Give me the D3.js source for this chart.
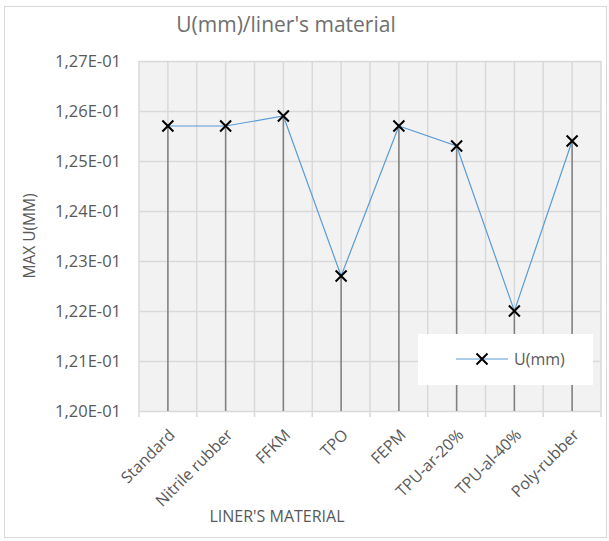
<!DOCTYPE html>
<html>
<head>
<meta charset="utf-8">
<script src="https://cdn.jsdelivr.net/npm/d3@7"></script>
<style>
  body { margin: 0; background: #fff; }
  svg text { font-family: "Open Sans", "Liberation Sans", sans-serif; fill: #595959; }
</style>
</head>
<body>
<div id="chart"></div>
<script>
// data
const materials = ['Standard', 'Nitrile rubber', 'FFKM', 'TPO', 'FEPM', 'TPU-ar-20%', 'TPU-al-40%', 'Poly-rubber'];
const uValues = [0.1257, 0.1257, 0.1259, 0.1227, 0.1257, 0.1253, 0.1220, 0.1254];
const yTicks = [0.120, 0.121, 0.122, 0.123, 0.124, 0.125, 0.126, 0.127];
const seriesName = 'U(mm)';

const W = 609, H = 541;
const plot = { left: 139, right: 601, top: 61, bottom: 411 };

const svg = d3.select('#chart').append('svg')
    .attr('width', W).attr('height', H);

// chart border
svg.append('rect')
    .attr('x', 4.5).attr('y', 6.5)
    .attr('width', 602).attr('height', 531)
    .attr('fill', '#fff').attr('stroke', '#d9d9d9');

// title
svg.append('text')
    .attr('x', 286).attr('y', 32)
    .attr('text-anchor', 'middle')
    .style('font-size', '21px')
    .style('fill', '#6f6f6f')
    .text("U(mm)/liner's material");

const x = d3.scaleBand().domain(materials).range([plot.left, plot.right]);
const y = d3.scaleLinear().domain([0.120, 0.127]).range([plot.bottom, plot.top]);

// plot background
svg.append('rect')
    .attr('x', plot.left).attr('y', plot.top)
    .attr('width', plot.right - plot.left).attr('height', plot.bottom - plot.top)
    .attr('fill', '#f2f2f2');

// horizontal gridlines
svg.append('g').selectAll('line')
    .data(yTicks)
    .join('line')
    .attr('x1', plot.left).attr('x2', plot.right)
    .attr('y1', d => Math.round(y(d)) + 0.5).attr('y2', d => Math.round(y(d)) + 0.5)
    .attr('stroke', '#d9d9d9').attr('stroke-width', 1.5);

// vertical gridlines: category boundaries and centres
const vLines = [];
materials.forEach(m => {
    vLines.push(x(m));
    vLines.push(x(m) + x.bandwidth() / 2);
});
vLines.push(plot.right);
svg.append('g').selectAll('line')
    .data(vLines)
    .join('line')
    .attr('x1', d => d).attr('x2', d => d)
    .attr('y1', plot.top).attr('y2', plot.bottom)
    .attr('stroke', '#d9d9d9').attr('stroke-width', 1.5);

// category tick marks below axis
const bounds = materials.map(m => x(m)).concat([plot.right]);
svg.append('g').selectAll('line')
    .data(bounds)
    .join('line')
    .attr('x1', d => d).attr('x2', d => d)
    .attr('y1', plot.bottom).attr('y2', plot.bottom + 6)
    .attr('stroke', '#d9d9d9').attr('stroke-width', 1.5);

// y tick labels
svg.append('g').selectAll('text')
    .data(yTicks)
    .join('text')
    .attr('x', 121).attr('y', d => y(d) + 6)
    .attr('text-anchor', 'end')
    .style('font-size', '16.5px')
    .text(d => (d * 10).toFixed(2).replace('.', ',') + 'E-01');

// x tick labels
const cx = d => x(d) + x.bandwidth() / 2;
svg.append('g').selectAll('text')
    .data(materials)
    .join('text')
    .attr('transform', d => `translate(${cx(d) + 8},${plot.bottom + 25}) rotate(-45)`)
    .attr('text-anchor', 'end')
    .style('font-size', '16px')
    .text(d => d);

// axis titles
svg.append('text')
    .attr('transform', `translate(35,${(plot.top + plot.bottom) / 2}) rotate(-90)`)
    .attr('text-anchor', 'middle')
    .style('font-size', '15.5px')
    .text('MAX U(MM)');

svg.append('text')
    .attr('x', 277).attr('y', 522)
    .attr('text-anchor', 'middle')
    .style('font-size', '16px')
    .text("LINER'S MATERIAL");

// drop lines
svg.append('g').selectAll('line')
    .data(uValues)
    .join('line')
    .attr('x1', (d, i) => cx(materials[i])).attr('x2', (d, i) => cx(materials[i]))
    .attr('y1', d => y(d)).attr('y2', plot.bottom)
    .attr('stroke', '#7f7f7f').attr('stroke-width', 1.5);

// series line
const line = d3.line()
    .x((d, i) => cx(materials[i]))
    .y(d => y(d));
svg.append('path')
    .datum(uValues)
    .attr('d', line)
    .attr('fill', 'none')
    .attr('stroke', '#5b9bd5')
    .attr('stroke-width', 1.2);

// markers
const cross = (px, py, s) => `M${px - s},${py - s}L${px + s},${py + s}M${px - s},${py + s}L${px + s},${py - s}`;
svg.append('g').selectAll('path')
    .data(uValues)
    .join('path')
    .attr('d', (d, i) => cross(cx(materials[i]), y(d), 5.5))
    .attr('stroke', '#000').attr('stroke-width', 2).attr('fill', 'none');

// legend
const lg = svg.append('g');
lg.append('rect')
    .attr('x', 418).attr('y', 334)
    .attr('width', 175).attr('height', 51)
    .attr('fill', '#fff');
lg.append('line')
    .attr('x1', 456).attr('x2', 508)
    .attr('y1', 359).attr('y2', 359)
    .attr('stroke', '#5b9bd5').attr('stroke-width', 1.2);
lg.append('path')
    .attr('d', cross(482, 359, 5.5))
    .attr('stroke', '#000').attr('stroke-width', 2).attr('fill', 'none');
lg.append('text')
    .attr('x', 514).attr('y', 365)
    .style('font-size', '16px')
    .text(seriesName);
</script>
</body>
</html>
